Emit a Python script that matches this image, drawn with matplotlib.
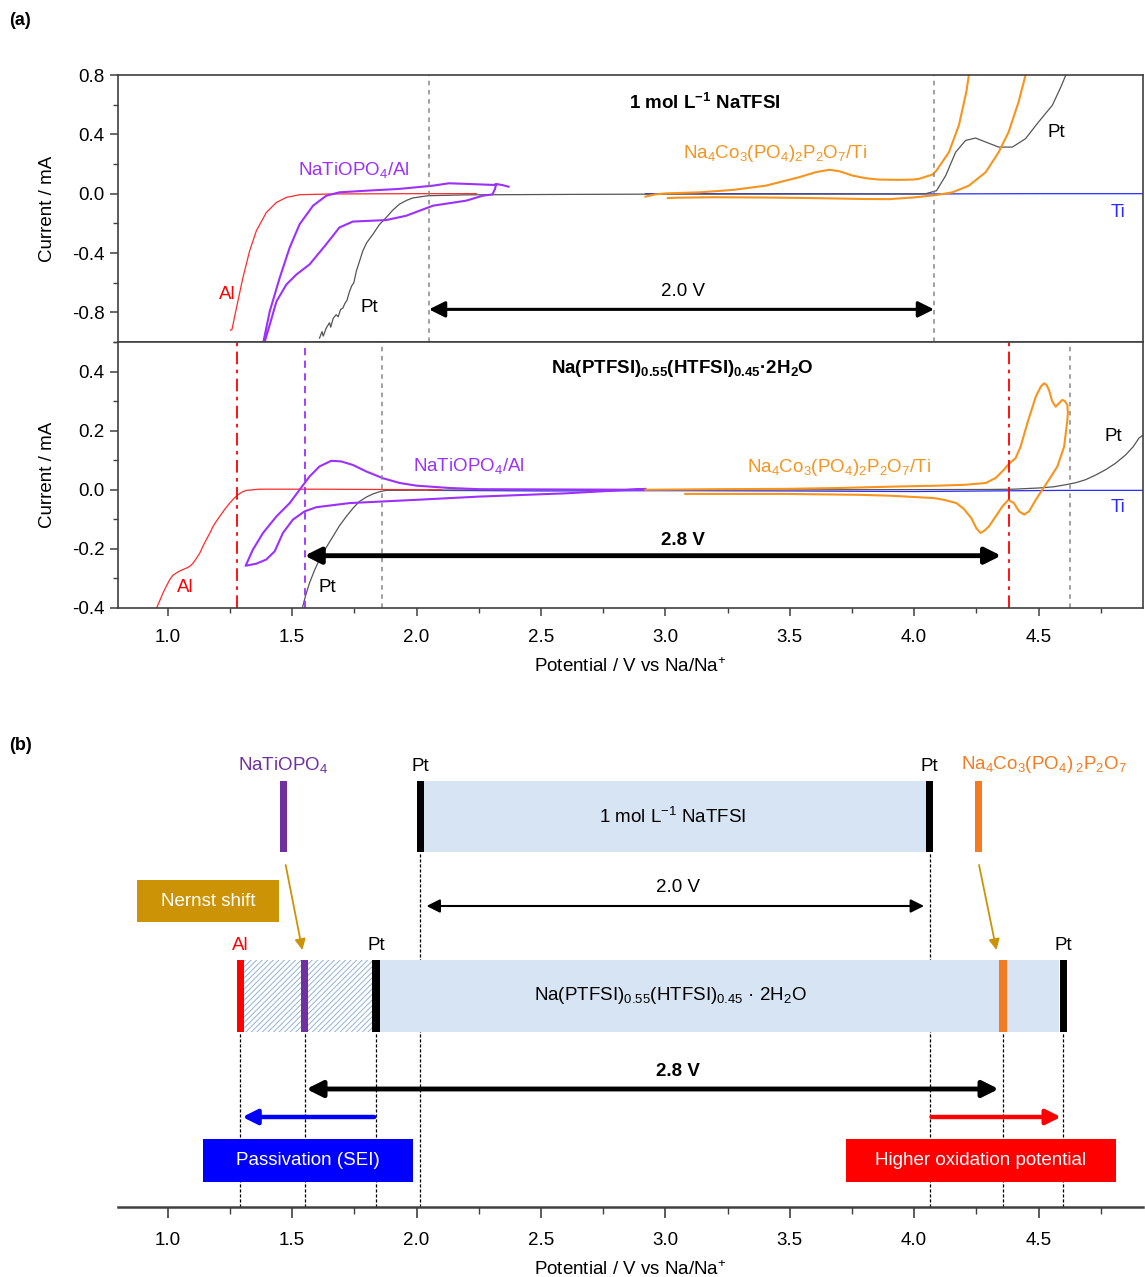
import matplotlib
matplotlib.use('Agg')
import matplotlib.pyplot as plt
from matplotlib.patches import Rectangle
from matplotlib.ticker import MultipleLocator

plt.rcParams['font.family'] = ['Liberation Sans', 'DejaVu Sans']
plt.rcParams['mathtext.fontset'] = 'custom'
plt.rcParams['mathtext.rm'] = 'Liberation Sans'
plt.rcParams['mathtext.it'] = 'Liberation Sans:italic'
plt.rcParams['mathtext.bf'] = 'Liberation Sans:bold'
plt.rcParams['mathtext.default'] = 'regular'
plt.rcParams['axes.unicode_minus'] = False
plt.rcParams['hatch.linewidth'] = 0.7

# ---------------- (a) upper: 1 mol/L NaTFSI ----------------
al_top_v = [1.252, 1.258, 1.276, 1.302, 1.329, 1.356, 1.396, 1.437, 1.477, 1.53, 1.66, 2.0, 2.24]
al_top_i = [-0.92, -0.917, -0.771, -0.567, -0.386, -0.251, -0.127, -0.059, -0.025, -0.007, -0.002, 0.0, 0.0]

nto_top_v = [2.37, 2.345, 2.32, 2.315, 2.305, 2.266, 2.2, 2.066, 1.958, 1.878, 1.744, 1.69, 1.637,
             1.57, 1.517, 1.477, 1.437, 1.41, 1.39, 1.375,
             1.37, 1.383, 1.41, 1.45, 1.49, 1.53, 1.584, 1.637, 1.69, 1.798, 1.93, 2.066, 2.13,
             2.2, 2.306, 2.32]
nto_top_i = [0.047, 0.058, 0.065, 0.03, -0.005, -0.014, -0.047, -0.081, -0.149, -0.178, -0.188, -0.228, -0.341,
             -0.477, -0.545, -0.612, -0.726, -0.883, -0.997, -1.1,
             -1.1, -1.01, -0.793, -0.567, -0.364, -0.206, -0.081, -0.014, 0.009, 0.02, 0.032, 0.054, 0.07,
             0.066, 0.059, 0.062]

pt_top_v = [1.61, 1.62, 1.625, 1.637, 1.65, 1.655, 1.665, 1.677, 1.685, 1.695, 1.704, 1.712, 1.72,
            1.731, 1.74, 1.748, 1.758, 1.77, 1.784, 1.8, 1.825, 1.85, 1.878, 1.905, 1.932, 1.96,
            1.985, 2.045, 2.2, 2.6, 3.0, 3.5, 4.0, 4.047, 4.09, 4.127, 4.167, 4.207, 4.247, 4.288,
            4.34, 4.395, 4.448, 4.5, 4.556, 4.59, 4.61, 4.63]
pt_top_i = [-0.974, -0.93, -0.96, -0.906, -0.87, -0.9, -0.84, -0.816, -0.83, -0.78, -0.771, -0.74, -0.72,
            -0.658, -0.62, -0.6, -0.522, -0.46, -0.386, -0.33, -0.273, -0.21, -0.161, -0.11, -0.07, -0.045,
            -0.029, -0.014, -0.008, -0.005, -0.003, -0.003, -0.002, 0.0, 0.02, 0.122, 0.28, 0.359, 0.375, 0.348,
            0.314, 0.314, 0.371, 0.483, 0.597, 0.72, 0.8, 0.9]

ti_top_v = [2.92, 3.5, 4.0, 4.5, 4.92]
ti_top_i = [0.0, 0.0, -0.002, 0.0, 0.0]

nco_top_v = [2.92, 2.96, 3.003, 3.137, 3.27, 3.404, 3.538, 3.605, 3.659, 3.7, 3.752, 3.806, 3.86, 3.94,
             3.994, 4.02, 4.074, 4.09, 4.14, 4.18, 4.21, 4.22, 4.235,
             4.46, 4.448, 4.42, 4.38, 4.34, 4.288, 4.22, 4.154, 4.09, 4.0, 3.9, 3.8, 3.6, 3.4, 3.2, 3.05, 3.01]
nco_top_i = [-0.02, -0.005, 0.002, 0.009, 0.025, 0.054, 0.111, 0.145, 0.161, 0.151, 0.122, 0.104, 0.095, 0.093,
             0.095, 0.1, 0.129, 0.156, 0.28, 0.461, 0.687, 0.8, 1.0,
             1.0, 0.8, 0.619, 0.416, 0.28, 0.145, 0.054, 0.009, -0.009, -0.025, -0.037, -0.036, -0.03, -0.026,
             -0.024, -0.027, -0.03]

# ---------------- (a) lower: hydrate melt ----------------
al_bot_v = [0.94, 0.955, 0.968, 0.981, 0.995, 1.008, 1.02, 1.035, 1.055, 1.075, 1.09, 1.102, 1.115, 1.129,
            1.142, 1.155, 1.17, 1.182, 1.195, 1.209, 1.23, 1.249, 1.265, 1.282, 1.3, 1.316, 1.369, 1.6, 2.1]
al_bot_i = [-0.42, -0.4, -0.375, -0.349, -0.325, -0.304, -0.29, -0.281, -0.272, -0.265, -0.258, -0.248, -0.232,
            -0.214, -0.19, -0.169, -0.145, -0.124, -0.107, -0.09, -0.065, -0.045, -0.03, -0.017, -0.007, -0.002,
            0.002, 0.002, 0.0]

nto_bot_v = [2.92, 2.6, 2.253, 1.999, 1.731, 1.597, 1.55, 1.503, 1.463, 1.43, 1.396, 1.356, 1.313,
             1.342, 1.383, 1.437, 1.49, 1.53, 1.57, 1.61, 1.657, 1.697, 1.744, 1.798, 1.865, 1.932, 1.999,
             2.133, 2.253, 2.6, 2.92]
nto_bot_i = [0.003, -0.012, -0.023, -0.034, -0.045, -0.059, -0.073, -0.101, -0.146, -0.208, -0.236, -0.25, -0.257,
             -0.203, -0.146, -0.09, -0.045, 0.0, 0.045, 0.079, 0.098, 0.096, 0.084, 0.062, 0.039, 0.023, 0.014,
             0.006, 0.002, 0.001, 0.0]

pt_bot_v = [1.541, 1.555, 1.57, 1.59, 1.61, 1.637, 1.664, 1.69, 1.718, 1.745, 1.771, 1.8, 1.825, 1.85, 1.878,
            2.5, 3.5, 4.3, 4.4, 4.5, 4.56, 4.609, 4.65, 4.689, 4.73, 4.77, 4.81, 4.85, 4.88, 4.904, 4.92]
pt_bot_i = [-0.4, -0.355, -0.315, -0.272, -0.236, -0.195, -0.158, -0.122, -0.09, -0.062, -0.039, -0.024, -0.014,
            -0.007, -0.002, 0.0, 0.0, 0.001, 0.002, 0.006, 0.01, 0.017, 0.024, 0.034, 0.05, 0.068, 0.09, 0.118,
            0.145, 0.175, 0.185]

ti_bot_v = [2.05, 2.5, 3.0, 3.5, 4.0, 4.3, 4.6, 4.92]
ti_bot_i = [-0.002, -0.004, -0.003, -0.004, -0.006, -0.004, -0.002, -0.002]

nco_bot_v = [2.92, 3.2, 3.48, 3.7, 3.93, 4.1, 4.207, 4.288, 4.328, 4.361, 4.381, 4.408, 4.428, 4.455, 4.489,
             4.51, 4.522, 4.532, 4.542, 4.555, 4.569, 4.585, 4.596, 4.606, 4.616, 4.618, 4.616, 4.603, 4.576,
             4.542, 4.515, 4.489, 4.462, 4.442, 4.422, 4.401, 4.379, 4.355, 4.328, 4.301, 4.28, 4.267, 4.25,
             4.23, 4.2, 4.17, 4.12, 4.08, 3.9, 3.78, 3.48, 3.08]
nco_bot_i = [0.0, 0.002, 0.003, 0.006, 0.011, 0.014, 0.017, 0.023, 0.04, 0.068, 0.088, 0.107, 0.146, 0.225, 0.315,
             0.35, 0.36, 0.355, 0.338, 0.3, 0.281, 0.295, 0.304, 0.3, 0.287, 0.26, 0.236, 0.146, 0.079,
             0.034, 0.0, -0.034, -0.073, -0.084, -0.073, -0.045, -0.034, -0.056, -0.09, -0.124, -0.14, -0.146, -0.13,
             -0.096, -0.065, -0.045, -0.034, -0.028, -0.02, -0.017, -0.014, -0.014]

# stability limits (V vs Na/Na+)
lim_top = [2.05, 4.08]
lim_bot_al, lim_bot_nto, lim_bot_pt, lim_bot_ox, lim_bot_ptox = 1.28, 1.55, 1.86, 4.38, 4.625

# ---------------- (b) schematic ----------------
top_win = [2.03, 4.047]
top_marks = [1.465, 2.015, 4.062, 4.258]
top_cols = ['#7030A0', 'black', 'black', '#F47B20']
top_names = ['NaTiOPO$_4$', 'Pt', 'Pt', 'Na$_4$Co$_3$(PO$_4$)$\\,_2$P$_2$O$_7$']
bot_win = [1.854, 4.584]
bot_hatch = [1.308, 1.82]
bot_marks = [1.292, 1.55, 1.837, 4.357, 4.60]
bot_cols = ['#FF0000', '#7030A0', 'black', '#F47B20', 'black']
bot_names = ['Al', '', 'Pt', '', 'Pt']
bot_name_cols = ['#FF0000', 'k', 'k', 'k', 'k']

C_AL, C_NTO, C_PT, C_TI, C_NCO = '#FF2A2A', '#9B30FF', '#555555', '#2B2BFF', '#F7941D'

fig = plt.figure(figsize=(11.45, 12.77), dpi=100)
L, W = 118 / 1145, 1025 / 1145
ax1 = fig.add_axes([L, 1 - 342 / 1277, W, 267 / 1277])
ax2 = fig.add_axes([L, 1 - 608 / 1277, W, 266 / 1277])
ax3 = fig.add_axes([L, 1 - 1207 / 1277, W, 472 / 1277])


def dbl_arrow(ax, x0, x1, y, lw, ms, color='k', style='<|-|>'):
    ax.annotate('', xy=(x1, y), xytext=(x0, y),
                arrowprops=dict(arrowstyle=style, lw=lw, color=color,
                                mutation_scale=ms, shrinkA=0, shrinkB=0))


for ax in (ax1, ax2):
    ax.set_xlim(0.8, 4.92)
    for s in ax.spines.values():
        s.set_color('#404040')
        s.set_linewidth(1.2)
    ax.tick_params(which='major', direction='out', length=6, width=1.1, labelsize=13.5, color='#404040')
    ax.tick_params(which='minor', direction='out', length=3.5, width=1.0, color='#404040')
    ax.tick_params(axis='x', pad=9)
    ax.xaxis.set_major_locator(MultipleLocator(0.5))
    ax.xaxis.set_minor_locator(MultipleLocator(0.25))
    ax.set_ylabel('Current / mA', fontsize=13.5, labelpad=12)

# upper CV panel
ax1.set_ylim(-1.0, 0.8)
ax1.yaxis.set_major_locator(MultipleLocator(0.4))
ax1.yaxis.set_minor_locator(MultipleLocator(0.2))
ax1.tick_params(axis='x', which='both', bottom=False, labelbottom=False)
ax1.plot(ti_top_v, ti_top_i, color=C_TI, lw=0.9)
ax1.plot(pt_top_v, pt_top_i, color=C_PT, lw=0.9)
ax1.plot(al_top_v, al_top_i, color=C_AL, lw=0.9)
ax1.plot(nto_top_v, nto_top_i, color=C_NTO, lw=1.5)
ax1.plot(nco_top_v, nco_top_i, color=C_NCO, lw=1.5)
for x in lim_top:
    ax1.axvline(x, color='#888888', lw=1.1, dashes=(3, 3))
dbl_arrow(ax1, lim_top[0], lim_top[1], -0.78, 2.2, 24)
ax1.text(3.07, -0.66, '2.0 V', fontsize=13.5, ha='center', va='center')
ax1.text(3.16, 0.61, r'1 mol L$^{\mathbf{-1}}$ NaTFSI', fontsize=13.5, weight='bold', ha='center', va='center')
ax1.text(1.75, 0.16, 'NaTiOPO$_4$/Al', fontsize=13.5, color=C_NTO, ha='center', va='center')
ax1.text(1.24, -0.68, 'Al', fontsize=13.5, color='#FF0000', ha='center', va='center')
ax1.text(1.81, -0.77, 'Pt', fontsize=13.5, color='k', ha='center', va='center')
ax1.text(3.44, 0.27, 'Na$_4$Co$_3$(PO$_4$)$_2$P$_2$O$_7$/Ti', fontsize=13.5, color=C_NCO, ha='center', va='center')
ax1.text(4.57, 0.41, 'Pt', fontsize=13.5, color='k', ha='center', va='center')
ax1.text(4.82, -0.13, 'Ti', fontsize=13.5, color=C_TI, ha='center', va='center')

# lower CV panel
ax2.set_ylim(-0.4, 0.5)
ax2.yaxis.set_minor_locator(MultipleLocator(0.1))
ax2.set_yticks([-0.4, -0.2, 0.0, 0.2, 0.4])
ax2.plot(ti_bot_v, ti_bot_i, color=C_TI, lw=0.9)
ax2.plot(pt_bot_v, pt_bot_i, color=C_PT, lw=0.9)
ax2.plot(al_bot_v, al_bot_i, color=C_AL, lw=0.9)
ax2.plot(nto_bot_v, nto_bot_i, color=C_NTO, lw=1.5)
ax2.plot(nco_bot_v, nco_bot_i, color=C_NCO, lw=1.5)
ax2.axvline(lim_bot_al, color='#FF0000', lw=1.3, dashes=(7, 3, 2, 3))
ax2.axvline(lim_bot_ox, color='#FF0000', lw=1.3, dashes=(7, 3, 2, 3))
ax2.axvline(lim_bot_nto, color=C_NTO, lw=1.3, dashes=(4, 3))
ax2.axvline(lim_bot_pt, color='#888888', lw=1.1, dashes=(3, 3))
ax2.axvline(lim_bot_ptox, color='#888888', lw=1.1, dashes=(3, 3))
dbl_arrow(ax2, lim_bot_nto, 4.35, -0.223, 3.5, 24)
ax2.text(3.07, -0.17, '2.8 V', fontsize=13.5, weight='bold', ha='center', va='center')
ax2.text(3.07, 0.41, r'Na(PTFSI)$_{\mathbf{0.55}}$(HTFSI)$_{\mathbf{0.45}}$·2H$_{\mathbf{2}}$O', fontsize=13.5,
         weight='bold', ha='center', va='center')
ax2.text(2.21, 0.08, 'NaTiOPO$_4$/Al', fontsize=13.5, color=C_NTO, ha='center', va='center')
ax2.text(1.07, -0.33, 'Al', fontsize=13.5, color='#FF0000', ha='center', va='center')
ax2.text(1.64, -0.33, 'Pt', fontsize=13.5, color='k', ha='center', va='center')
ax2.text(3.7, 0.075, 'Na$_4$Co$_3$(PO$_4$)$_2$P$_2$O$_7$/Ti', fontsize=13.5, color=C_NCO, ha='center', va='center')
ax2.text(4.8, 0.18, 'Pt', fontsize=13.5, color='k', ha='center', va='center')
ax2.text(4.82, -0.06, 'Ti', fontsize=13.5, color=C_TI, ha='center', va='center')
ax2.set_xlabel('Potential / V vs Na/Na$^{+}$', fontsize=13.5, labelpad=8)

# schematic panel (b)
ax3.set_xlim(0.8, 4.92)
ax3.set_ylim(0, 472)
for side in ('left', 'right', 'top'):
    ax3.spines[side].set_visible(False)
ax3.spines['bottom'].set_color('#404040')
ax3.spines['bottom'].set_linewidth(1.8)
ax3.set_yticks([])
ax3.xaxis.set_major_locator(MultipleLocator(0.5))
ax3.xaxis.set_minor_locator(MultipleLocator(0.25))
ax3.tick_params(which='major', direction='out', length=8, width=1.2, labelsize=13.5, color='#404040', pad=10)
ax3.tick_params(which='minor', direction='out', length=5, width=1.0, color='#404040')
ax3.set_xlabel('Potential / V vs Na/Na$^{+}$', fontsize=13.5, labelpad=8)

bw = 0.03
ty0, th = 355, 71
by0, bh = 175, 72
# guide lines
for x in (top_marks[1], top_marks[2]):
    ax3.plot([x, x], [0, ty0], color='k', lw=0.9, dashes=(2.5, 1.5), zorder=1)
for x in bot_marks:
    ax3.plot([x, x], [0, by0], color='k', lw=0.9, dashes=(2.5, 1.5), zorder=1)

ax3.add_patch(Rectangle((top_win[0], ty0), top_win[1] - top_win[0], th, fc='#D6E4F3', ec='none', zorder=2))
ax3.add_patch(Rectangle((bot_win[0], by0), bot_win[1] - bot_win[0], bh, fc='#D6E4F3', ec='none', zorder=2))
ax3.add_patch(Rectangle((bot_hatch[0], by0), bot_hatch[1] - bot_hatch[0], bh, fc='white', ec='#93B3DA',
                        lw=0, hatch='//////', zorder=2))
for x, c in zip(top_marks, top_cols):
    ax3.add_patch(Rectangle((x - bw / 2, ty0), bw, th, fc=c, ec='none', zorder=3))
for x, c in zip(bot_marks, bot_cols):
    ax3.add_patch(Rectangle((x - bw / 2, by0), bw, bh, fc=c, ec='none', zorder=3))

name_cols_top = ['#7030A0', 'k', 'k', '#F47B20']
name_x_top = [top_marks[0], top_marks[1], top_marks[2], 4.52]
for x, s, c in zip(name_x_top, top_names, name_cols_top):
    ax3.text(x, ty0 + th + 6, s, fontsize=13.5, color=c, ha='center', va='bottom')
for x, s, c in zip(bot_marks, bot_names, bot_name_cols):
    if s:
        ax3.text(x, by0 + bh + 6, s, fontsize=13.5, color=c, ha='center', va='bottom')

ax3.text(3.03, ty0 + th / 2, r'1 mol L$^{-1}$ NaTFSI', fontsize=13.5, ha='center', va='center', zorder=4)
ax3.text(3.02, by0 + bh / 2, r'Na(PTFSI)$_{0.55}$(HTFSI)$_{0.45}$ · 2H$_2$O', fontsize=13.5,
         ha='center', va='center', zorder=4)

dbl_arrow(ax3, 2.04, 4.04, 301, 1.5, 20)
ax3.text(3.05, 319, '2.0 V', fontsize=13.5, ha='center', va='center')
dbl_arrow(ax3, 1.557, 4.34, 118, 3.5, 24)
ax3.text(3.05, 136, '2.8 V', fontsize=13.5, weight='bold', ha='center', va='center')
dbl_arrow(ax3, 1.83, 1.30, 90, 3.2, 22, color='#0000FF', style='-|>')
dbl_arrow(ax3, 4.07, 4.59, 90, 3.2, 22, color='#FF0000', style='-|>')

# boxes
ax3.add_patch(Rectangle((0.876, 285), 0.57, 42, fc='#CC9306', ec='none', zorder=3))
ax3.text(0.876 + 0.285, 306, 'Nernst shift', fontsize=13.5, color='white', ha='center', va='center', zorder=4)
ax3.add_patch(Rectangle((1.141, 25), 0.843, 43, fc='#0000FF', ec='none', zorder=3))
ax3.text(1.141 + 0.4215, 46.5, 'Passivation (SEI)', fontsize=13.5, color='white', ha='center', va='center', zorder=4)
ax3.add_patch(Rectangle((3.727, 25), 1.084, 43, fc='#FF0000', ec='none', zorder=3))
ax3.text(3.727 + 0.542, 46.5, 'Higher oxidation potential', fontsize=13.5, color='white', ha='center',
         va='center', zorder=4)

# Nernst shift arrows
for (x0, x1) in ((1.474, 1.541), (4.261, 4.331)):
    ax3.annotate('', xy=(x1, 257), xytext=(x0, 342),
                 arrowprops=dict(arrowstyle='-|>', lw=1.3, color='#CC9306', mutation_scale=16,
                                 shrinkA=0, shrinkB=0))

fig.text(0.008, 0.984, '(a)', fontsize=13, weight='bold', va='center')
fig.text(0.008, 0.4166, '(b)', fontsize=13, weight='bold', va='center')

fig.savefig('out.png', dpi=100)
